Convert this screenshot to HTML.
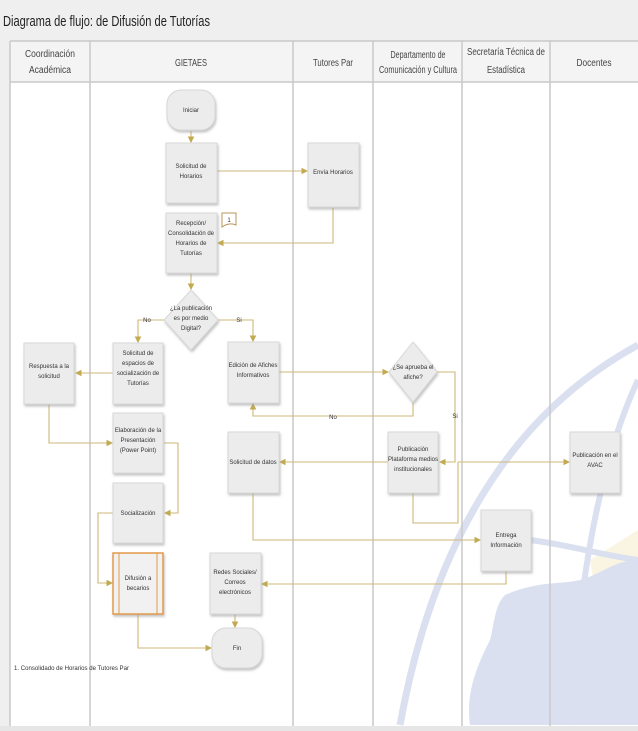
<!DOCTYPE html>
<html><head><meta charset="utf-8"><style>
html,body{margin:0;padding:0;background:#fff;}
svg{display:block;font-family:"Liberation Sans",sans-serif;}
.box{fill:#ececec;stroke:#d8d8d8;stroke-width:1;filter:url(#sh);}
.t{font-size:6px;fill:#333;text-anchor:middle;}
.h{font-size:10px;fill:#444;text-anchor:middle;}
.c{fill:none;stroke:#cdb878;stroke-width:1.1;}
.lane{stroke:#c9c9c9;stroke-width:1.5;}
</style></head><body>
<svg width="638" height="731" viewBox="0 0 638 731">
<defs>
<filter id="sh" x="-20%" y="-20%" width="150%" height="150%"><feDropShadow dx="1" dy="2" stdDeviation="1.2" flood-color="#999" flood-opacity="0.6"/></filter>
<marker id="ar" markerWidth="6" markerHeight="6" refX="5" refY="3" orient="auto"><path d="M0,0 L6,3 L0,6 z" fill="#c2aa50"/></marker>
</defs>
<rect x="0" y="0" width="638" height="731" fill="#fff"/>
<g opacity="0.5">
<path d="M590 560 L638 530 L638 640 L600 620 Z" fill="#f7ecc6"/>
<path d="M505 595 C540 580 560 585 580 580 C600 575 615 560 638 560 L638 725 L470 725 C465 690 480 660 490 640 C495 620 495 605 505 595 Z" fill="#b7c3e2"/>
<path d="M400 725 C430 560 500 420 638 345" fill="none" stroke="#b7c3e2" stroke-width="7"/>
<path d="M570 725 C580 560 605 450 638 380" fill="none" stroke="#b7c3e2" stroke-width="6"/>
<path d="M530 540 C570 545 600 555 638 560" fill="none" stroke="#b7c3e2" stroke-width="6"/>
</g>
<rect x="0" y="0" width="638" height="41" fill="#efefef"/>
<text x="3" y="26" font-size="15" fill="#222" textLength="207" lengthAdjust="spacingAndGlyphs">Diagrama de flujo: de Difusión de Tutorías</text>
<rect x="0" y="41" width="10" height="686" fill="#efefef"/>
<rect x="10" y="41" width="628" height="41" fill="#f4f4f4"/>
<line x1="10" y1="41" x2="638" y2="41" class="lane"/>
<line x1="10" y1="82" x2="638" y2="82" class="lane"/>
<rect x="0" y="726" width="638" height="5" fill="#e6e6e6"/>
<g>
<line x1="10" y1="41" x2="10" y2="726" class="lane"/>
<line x1="90" y1="41" x2="90" y2="726" class="lane"/>
<line x1="293" y1="41" x2="293" y2="726" class="lane"/>
<line x1="373" y1="41" x2="373" y2="726" class="lane"/>
<line x1="462" y1="41" x2="462" y2="726" class="lane"/>
<line x1="550" y1="41" x2="550" y2="726" class="lane"/>
</g>
<text class="h" x="50" y="57" textLength="50" lengthAdjust="spacingAndGlyphs">Coordinación</text>
<text class="h" x="50" y="73" textLength="42" lengthAdjust="spacingAndGlyphs">Académica</text>
<text class="h" x="191" y="66" textLength="32" lengthAdjust="spacingAndGlyphs">GIETAES</text>
<text class="h" x="333" y="66" textLength="40" lengthAdjust="spacingAndGlyphs">Tutores Par</text>
<text class="h" x="418" y="58" textLength="55" lengthAdjust="spacingAndGlyphs">Departamento de</text>
<text class="h" x="418" y="73" textLength="78" lengthAdjust="spacingAndGlyphs">Comunicación y Cultura</text>
<text class="h" x="506" y="55" textLength="78" lengthAdjust="spacingAndGlyphs">Secretaría Técnica de</text>
<text class="h" x="506" y="73" textLength="38" lengthAdjust="spacingAndGlyphs">Estadística</text>
<text class="h" x="594" y="66" textLength="35" lengthAdjust="spacingAndGlyphs">Docentes</text>

<g>
<path class="c" d="M191 131 V142" marker-end="url(#ar)"/>
<path class="c" d="M217 171 H307" marker-end="url(#ar)"/>
<path class="c" d="M333 208 V243 H218" marker-end="url(#ar)"/>
<path class="c" d="M191 273 V289" marker-end="url(#ar)"/>
<path class="c" d="M164 320 H138 V342" marker-end="url(#ar)"/>
<path class="c" d="M218 320 H253 V341" marker-end="url(#ar)"/>
<path class="c" d="M113 373 H76" marker-end="url(#ar)"/>
<path class="c" d="M49 404 V443 H112" marker-end="url(#ar)"/>
<path class="c" d="M164 443 H178 V513 H165" marker-end="url(#ar)"/>
<path class="c" d="M113 513 H98 V583 H112" marker-end="url(#ar)"/>
<path class="c" d="M138 614 V648 H211" marker-end="url(#ar)"/>
<path class="c" d="M279 372 H388" marker-end="url(#ar)"/>
<path class="c" d="M413 402 V416 H253 V404" marker-end="url(#ar)"/>
<path class="c" d="M437 372 H455 V462 H440" marker-end="url(#ar)"/>
<path class="c" d="M388 462 H280" marker-end="url(#ar)"/>
<path class="c" d="M458 462 H569" marker-end="url(#ar)"/>
<path class="c" d="M413 493 V523 H458 V462"/>
<path class="c" d="M253 493 V540 H480" marker-end="url(#ar)"/>
<path class="c" d="M506 571 V584 H262" marker-end="url(#ar)"/>
<path class="c" d="M235 614 V627" marker-end="url(#ar)"/>
</g>
<text class="t" x="147" y="322" fill="#999">No</text>
<text class="t" x="239" y="322">Si</text>
<text class="t" x="333" y="419">No</text>
<text class="t" x="455" y="418">Si</text>

<g><rect class="box" x="167" y="90" width="48" height="40" rx="14"/><text class="t" x="191" y="112">Iniciar</text></g>
<g><rect class="box" x="166" y="143" width="51" height="60"/><text class="t" x="191" y="168">Solicitud de</text><text class="t" x="191" y="178">Horarios</text></g>
<g><rect class="box" x="308" y="143" width="51" height="64"/><text class="t" x="333" y="174">Envía Horarios</text></g>
<g><rect class="box" x="166" y="213" width="51" height="60"/><text class="t" x="191" y="225">Recepción/</text><text class="t" x="191" y="235">Consolidación de</text><text class="t" x="191" y="245">Horarios de</text><text class="t" x="191" y="255">Tutorías</text></g>
<g><path d="M222 213 H236 V225 Q229 222 222 227 Z" fill="#fff" stroke="#b8945a"/><text class="t" x="229" y="222">1</text></g>
<g><path class="box" d="M191 290 L218 320 L191 350 L164 320 Z"/><text class="t" x="191" y="310">¿La publicación</text><text class="t" x="191" y="320">es por medio</text><text class="t" x="191" y="330">Digital?</text></g>
<g><rect class="box" x="113" y="343" width="50" height="61"/><text class="t" x="138" y="355">Solicitud de</text><text class="t" x="138" y="365">espacios de</text><text class="t" x="138" y="375">socialización de</text><text class="t" x="138" y="385">Tutorías</text></g>
<g><rect class="box" x="24" y="343" width="50" height="61"/><text class="t" x="49" y="368">Respuesta a la</text><text class="t" x="49" y="378">solicitud</text></g>
<g><rect class="box" x="228" y="342" width="51" height="61"/><text class="t" x="253" y="367">Edición de Afiches</text><text class="t" x="253" y="377">Informativos</text></g>
<g><path class="box" d="M413 342 L437 372 L413 402 L389 372 Z"/><text class="t" x="413" y="369">¿Se aprueba el</text><text class="t" x="413" y="379">afiche?</text></g>
<g><rect class="box" x="113" y="413" width="50" height="60"/><text class="t" x="138" y="432">Elaboración de la</text><text class="t" x="138" y="442">Presentación</text><text class="t" x="138" y="452">(Power Point)</text></g>
<g><rect class="box" x="228" y="432" width="51" height="61"/><text class="t" x="253" y="464">Solicitud de datos</text></g>
<g><rect class="box" x="388" y="432" width="50" height="61"/><text class="t" x="413" y="451">Publicación</text><text class="t" x="413" y="461">Plataforma medios</text><text class="t" x="413" y="471">institucionales</text></g>
<g><rect class="box" x="570" y="432" width="50" height="61"/><text class="t" x="595" y="457">Publicación en el</text><text class="t" x="595" y="467">AVAC</text></g>
<g><rect class="box" x="113" y="483" width="50" height="60"/><text class="t" x="138" y="515">Socialización</text></g>
<g><rect class="box" x="481" y="510" width="50" height="61"/><text class="t" x="506" y="537">Entrega</text><text class="t" x="506" y="547">Información</text></g>
<g><rect x="113" y="553" width="50" height="61" fill="#f1f1f1" stroke="#e39a4a" stroke-width="1.5" filter="url(#sh)"/><line x1="119" y1="553" x2="119" y2="614" stroke="#e39a4a"/><line x1="157" y1="553" x2="157" y2="614" stroke="#e39a4a"/><text class="t" x="138" y="580">Difusión a</text><text class="t" x="138" y="590">becarios</text></g>
<g><rect class="box" x="210" y="553" width="51" height="61"/><text class="t" x="235" y="574">Redes Sociales/</text><text class="t" x="235" y="584">Correos</text><text class="t" x="235" y="594">electrónicos</text></g>
<g><rect class="box" x="212" y="628" width="50" height="40" rx="14"/><text class="t" x="237" y="650">Fin</text></g>
<text x="14" y="670" font-size="6" fill="#333" textLength="115" lengthAdjust="spacingAndGlyphs">1. Consolidado de Horarios de Tutores Par</text>
</svg>
</body></html>
